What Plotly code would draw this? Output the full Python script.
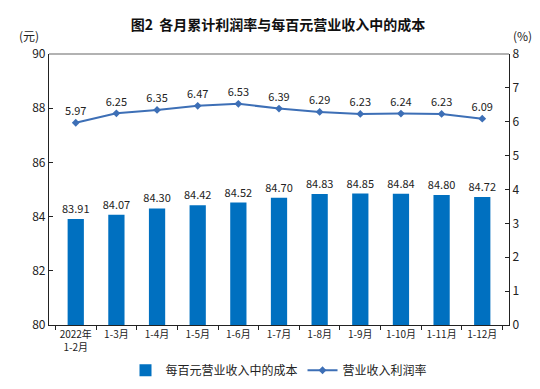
import plotly.graph_objects as go

categories = ["2022年<br>1-2月", "1-3月", "1-4月", "1-5月", "1-6月", "1-7月",
              "1-8月", "1-9月", "1-10月", "1-11月", "1-12月"]
cost_per_100 = [83.91, 84.07, 84.30, 84.42, 84.52, 84.70, 84.83, 84.85, 84.84, 84.80, 84.72]
profit_rate = [5.97, 6.25, 6.35, 6.47, 6.53, 6.39, 6.29, 6.23, 6.24, 6.23, 6.09]

FONT = "Noto Sans CJK SC, Liberation Sans, sans-serif"

fig = go.Figure()
fig.add_trace(go.Bar(
    x=categories, y=cost_per_100, name="每百元营业收入中的成本",
    marker=dict(color="#0070c0", line=dict(width=0)),
    text=[f"{v:.2f}" for v in cost_per_100], textposition="outside",
    constraintext="none",
    textfont=dict(size=11, color="#222"), cliponaxis=False, width=0.4,
))
fig.add_trace(go.Scatter(
    x=categories, y=profit_rate, name="营业收入利润率", yaxis="y2",
    mode="lines+markers+text",
    line=dict(color="#3d6fb6", width=2),
    marker=dict(symbol="diamond", size=6, color="#3d6fb6"),
    text=[f"{v:.2f}" for v in profit_rate], textposition="top center",
    textfont=dict(size=11, color="#222"), cliponaxis=False,
))

fig.update_layout(
    width=540, height=389,
    margin=dict(l=41, r=39, t=46, b=67),
    paper_bgcolor="white", plot_bgcolor="white",
    font=dict(family=FONT, size=11, color="#222"),
    title=dict(text="<b>图2  各月累计利润率与每百元营业收入中的成本</b>",
               x=0.5, xanchor="center", y=0.956, yanchor="middle",
               font=dict(size=14, color="#111")),
    showlegend=True,
    legend=dict(orientation="h", x=0.5, xanchor="center", y=-0.167, yanchor="middle",
                font=dict(size=12), itemwidth=30, tracegroupgap=0),
    xaxis=dict(showline=True, linecolor="#222", linewidth=1.2,
               ticks="outside", tickson="boundaries", ticklen=4, tickcolor="#222",
               tickfont=dict(size=10), tickangle=0, showgrid=False, automargin=False),
    yaxis=dict(range=[80, 90], dtick=2, showline=True, linecolor="#222", linewidth=1.2,
               ticks="inside", ticklen=4, tickcolor="#222", showgrid=False,
               zeroline=False, tickfont=dict(size=12)),
    yaxis2=dict(range=[0, 8], dtick=1, overlaying="y", side="right",
                showline=True, linecolor="#222", linewidth=1.2,
                ticks="inside", ticklen=4, tickcolor="#222", showgrid=False,
                zeroline=False, tickfont=dict(size=12)),
    bargap=0.6,
)
fig.add_shape(type="line", xref="paper", yref="paper", x0=0, x1=1, y0=1, y1=1,
              line=dict(color="#999", width=1.5))
fig.add_annotation(text="(元)", xref="paper", yref="paper", x=-0.07, y=1.03,
                   xanchor="left", yanchor="bottom", showarrow=False, font=dict(size=12))
fig.add_annotation(text="(%)", xref="paper", yref="paper", x=1.055, y=1.03,
                   xanchor="right", yanchor="bottom", showarrow=False, font=dict(size=12))

fig.write_html("out.html")
